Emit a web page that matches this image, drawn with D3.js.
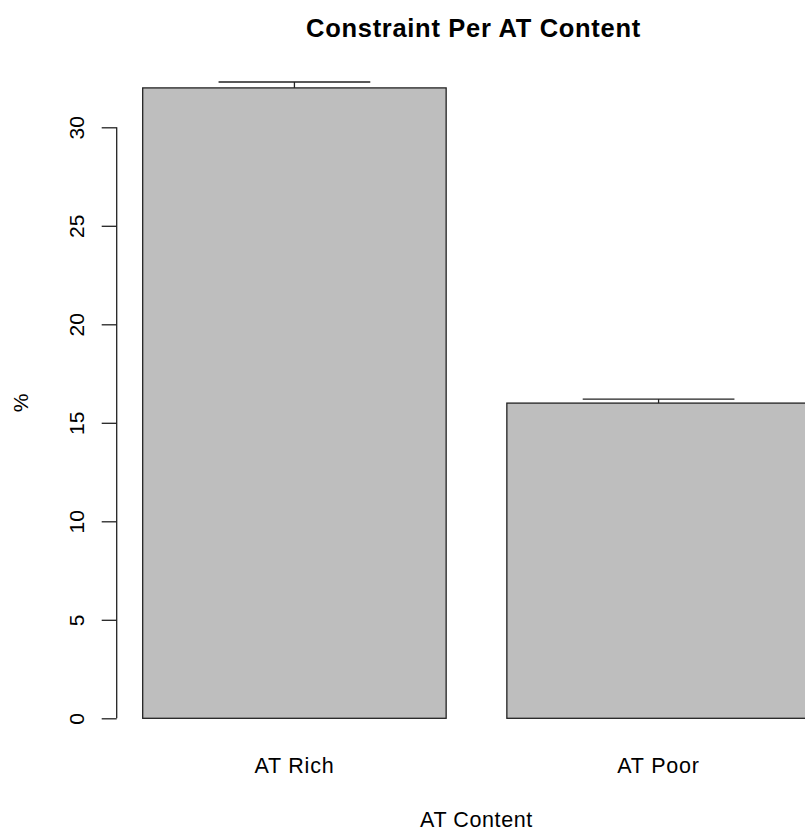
<!DOCTYPE html>
<html>
<head>
<meta charset="utf-8">
<script src="https://cdn.jsdelivr.net/npm/d3@7"></script>
<style>
html,body{margin:0;padding:0;background:#fff;}
svg{display:block;}
text{font-family:"Liberation Sans",Arial,Helvetica,sans-serif;fill:#000;}
</style>
</head>
<body>
<svg id="chart" width="805" height="833"></svg>
<script>
const categories = ["AT Rich", "AT Poor"];
const values = [32.0, 16.0];
const errorUpper = [32.3, 16.2];
const yTicks = [0, 5, 10, 15, 20, 25, 30];
const title = "Constraint Per AT Content";
const xLabel = "AT Content";
const yLabel = "%";

const svg = d3.select("#chart");
// R barplot geometry: width 1, space 0.2, xlim 0..2.6
const x = d3.scaleLinear().domain([0, 2.6]).range([82, 871]);
const y = d3.scaleLinear().domain([0, 30]).range([718.3, 127.3]);

const bars = categories.map((c, i) => {
  const left = 0.2 + i * 1.2;
  return {c, v: values[i], e: errorUpper[i], left, right: left + 1, mid: left + 0.5};
});

svg.append("g").selectAll("rect").data(bars).join("rect")
  .attr("x", d => x(d.left))
  .attr("y", d => y(d.v))
  .attr("width", d => x(d.right) - x(d.left))
  .attr("height", d => y(0) - y(d.v))
  .attr("fill", "#bebebe")
  .attr("stroke", "#222")
  .attr("stroke-width", 1.3);

// error bars (upper)
const eg = svg.append("g").attr("stroke", "#222").attr("stroke-width", 1.3);
eg.selectAll("line.v").data(bars).join("line").attr("class", "v")
  .attr("x1", d => x(d.mid)).attr("x2", d => x(d.mid))
  .attr("y1", d => y(d.v)).attr("y2", d => y(d.e));
eg.selectAll("line.h").data(bars).join("line").attr("class", "h")
  .attr("x1", d => x(d.mid - 0.25)).attr("x2", d => x(d.mid + 0.25))
  .attr("y1", d => y(d.e)).attr("y2", d => y(d.e));

// y axis
const axisX = 116.7;
const ay = svg.append("g").attr("transform", `translate(${axisX},0)`);
ay.call(d3.axisLeft(y).tickValues(yTicks).tickSize(15).tickPadding(0).tickFormat(d3.format("d")));
ay.select(".domain").attr("stroke", "#222").attr("stroke-width", 1.3).attr("d", `M0,${y(0)}V${y(30)}`);
ay.selectAll(".tick line").attr("stroke", "#222").attr("stroke-width", 1.3);
ay.selectAll(".tick text")
  .attr("x", 0).attr("dy", null)
  .attr("text-anchor", "middle")
  .attr("transform", "translate(-32.5,0) rotate(-90)")
  .attr("y", 0)
  .attr("font-size", 21)
  .style("font-family", '"Liberation Sans",Arial,sans-serif')
  .attr("fill", "#111");

// category labels
svg.append("g").selectAll("text").data(bars).join("text")
  .attr("x", d => x(d.mid))
  .attr("y", 773)
  .attr("text-anchor", "middle")
  .attr("font-size", 21.5)
  .attr("letter-spacing", 0.8)
  .text(d => d.c);

// x label
svg.append("text")
  .attr("x", x(1.3)).attr("y", 826.5)
  .attr("text-anchor", "middle")
  .attr("font-size", 21.5)
  .attr("letter-spacing", 0.6)
  .text(xLabel);

// y label
svg.append("text")
  .attr("transform", `translate(28,403) rotate(-90)`)
  .attr("text-anchor", "middle")
  .attr("font-size", 21)
  .text(yLabel);

// title
svg.append("text")
  .attr("x", x(1.3) - 3).attr("y", 36.5)
  .attr("text-anchor", "middle")
  .attr("font-size", 25.5)
  .attr("font-weight", "bold")
  .attr("letter-spacing", 0.7)
  .text(title);
</script>
</body>
</html>
